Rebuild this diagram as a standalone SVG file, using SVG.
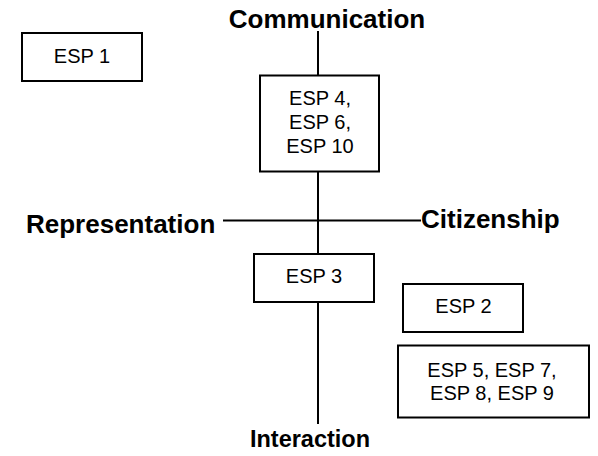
<svg xmlns="http://www.w3.org/2000/svg" width="598" height="456" viewBox="0 0 598 456">
<style>
.box{fill:#fff;stroke:#000;stroke-width:2}
.t{font-family:"Liberation Sans",Arial,sans-serif;font-size:20px;fill:#000;text-anchor:middle}
.b{font-family:"Liberation Sans",Arial,sans-serif;font-size:26px;font-weight:bold;fill:#000}
.ln{stroke:#000;stroke-width:2;fill:none}
</style>
<rect width="598" height="456" fill="#fff"/>
<g id="connectors">
<line class="ln" x1="318" y1="31" x2="318" y2="76"/>
<line class="ln" x1="318" y1="171" x2="318" y2="254"/>
<line class="ln" x1="318" y1="302" x2="318" y2="424"/>
<line class="ln" x1="223" y1="220.5" x2="421" y2="220.5"/>
</g>
<g id="communication"><text class="b" x="327" y="28" text-anchor="middle">Communication</text></g>
<g id="representation"><text class="b" x="26" y="233">Representation</text></g>
<g id="citizenship"><text class="b" x="421" y="228">Citizenship</text></g>
<g id="interaction"><text class="b" x="310" y="447" text-anchor="middle" style="font-size:23.5px">Interaction</text></g>
<g id="esp1"><rect class="box" x="22" y="33" width="120" height="48"/><text class="t" x="82" y="63">ESP 1</text></g>
<g id="esp4610"><rect class="box" x="260" y="75.5" width="119" height="96"/><text class="t" x="320" y="105">ESP 4,</text><text class="t" x="320" y="129">ESP 6,</text><text class="t" x="320" y="153">ESP 10</text></g>
<g id="esp3"><rect class="box" x="254" y="254" width="120" height="48"/><text class="t" x="314" y="283">ESP 3</text></g>
<g id="esp2"><rect class="box" x="403" y="284" width="120" height="48"/><text class="t" x="463.5" y="313">ESP 2</text></g>
<g id="esp5789"><rect class="box" x="398" y="345.5" width="191" height="72"/><text class="t" x="492" y="376.5">ESP 5, ESP 7,</text><text class="t" x="492" y="400">ESP 8, ESP 9</text></g>
</svg>
